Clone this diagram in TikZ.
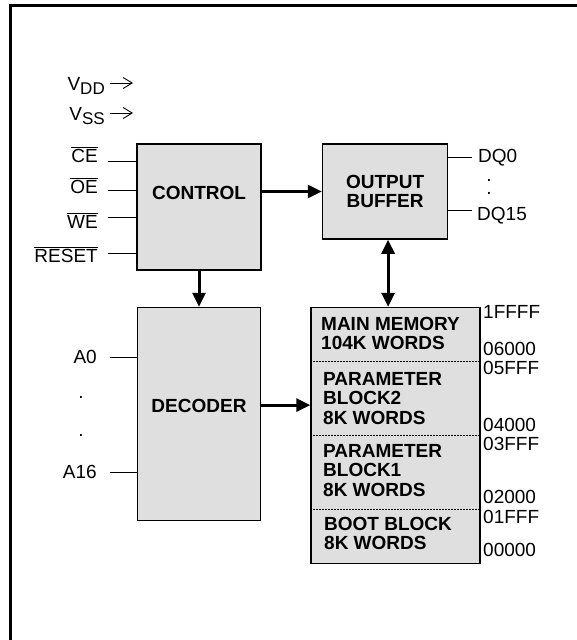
\documentclass[tikz,border=0pt]{standalone}
\usepackage{fontspec}
\setmainfont{Liberation Sans}
\usetikzlibrary{positioning, arrows.meta}

\definecolor{blockgray}{RGB}{223,223,223}
\newcommand{\diagfont}{\fontsize{19}{19.5}\selectfont}
\newcommand{\lowact}[1]{\ensuremath{\overline{\hbox{#1}}}}

\begin{document}
\begin{tikzpicture}[x=1pt, y=-1pt, font=\diagfont]
  \tikzset{>={Triangle[length=14pt,width=13pt]},
    block/.style={draw, line width=1.6pt, fill=blockgray, inner sep=0pt},
    bus/.style={line width=3pt, ->},
    pin/.style={line width=0.9pt},
    supply/.style={line width=0.9pt, -{Straight Barb[length=9pt,width=11pt]}},
    pinlabel/.style={inner sep=0pt},
    memtext/.style={inner sep=0pt, anchor=north west, align=left, font=\diagfont\bfseries},
    divider/.style={line width=0.7pt, dash pattern=on 2pt off 1pt}}

  \useasboundingbox (0,0) rectangle (577,640);
  \draw[line width=3pt] (10,640) |- (577,5);

  \node[block, minimum width=124pt, minimum height=126pt,
        label={[yshift=14pt, font=\diagfont\bfseries]center:CONTROL}] (control) at (199,207) {};
  \node[block, minimum width=123pt, minimum height=213pt,
        label={[yshift=8pt, font=\diagfont\bfseries]center:DECODER}] (decoder) [below=36pt of control] {};
  \node[block, minimum width=125pt, minimum height=95pt, align=center, font=\diagfont\bfseries]
        (buffer) [right=60pt of control.north east, anchor=north west] {OUTPUT\\BUFFER};
  \node[block, minimum width=169pt, minimum height=256pt]
        (memory) [right=49pt of decoder.north east, anchor=north west] {};

  % memory map
  \foreach \dy in {55,129,203}
    \draw[divider] ([yshift=-\dy*1pt]memory.north west) -- ([yshift=-\dy*1pt]memory.north east);
  \node[memtext] (mainblk) at (321,317) {MAIN MEMORY\\104K WORDS};
  \node[memtext] (parblk2) at (323,372) {PARAMETER\\BLOCK2\\8K WORDS};
  \node[memtext] (parblk1) at (323,444) {PARAMETER\\BLOCK1\\8K WORDS};
  \node[memtext] (bootblk) at (324,517) {BOOT BLOCK\\8K WORDS};
  \foreach \addr/\ytop in {1FFFF/305, 06000/342, 05FFF/361, 04000/418,
                           03FFF/437, 02000/490, 01FFF/510, 00000/543}
    \node[pinlabel, anchor=north west] (m\addr) at (483,\ytop) {\addr};

  % supplies
  \node[pinlabel, anchor=base east] (VDD) at (105,90) {V\raisebox{-4pt}{\fontsize{17}{17}\selectfont DD}};
  \node[pinlabel, anchor=base east] (VSS) at (105,120) {V\raisebox{-4pt}{\fontsize{17}{17}\selectfont SS}};
  \coordinate (VDD tip) at (133,83);
  \coordinate (VSS tip) at (133,113);
  \draw[supply] ([shift={(5,-7)}]VDD.base east) -- (VDD tip);
  \draw[supply] ([shift={(5,-7)}]VSS.base east) -- (VSS tip);

  % control inputs
  \foreach \sig/\ybase/\ypin in {CE/162/161, OE/193/190, WE/228/217, RESET/262/253} {
    \node[pinlabel, anchor=base east] (\sig) at (98,\ybase) {\lowact{\sig}};
    \coordinate (\sig pin) at (108,\ypin);
    \draw[pin] (\sig pin) -- (\sig pin -| control.west);
  }

  % address inputs
  \node[pinlabel, anchor=east] (A0)  at (97,357) {A0};
  \node[pinlabel, anchor=east] (A16) at (97,472) {A16};
  \node[pinlabel] (adot1) at (81,397) {.};
  \node[pinlabel] (adot2) at (81,435) {.};
  \draw[pin] ([xshift=13pt]A0.east) -- (A0 -| decoder.west);
  \draw[pin] ([xshift=13pt]A16.east) -- (A16 -| decoder.west);

  % data outputs
  \node[pinlabel, anchor=base west] (DQ0)  at (478,162) {DQ0};
  \node[pinlabel, anchor=base west] (DQ15) at (477,220) {DQ15};
  \node[pinlabel, align=center, font=\fontsize{19}{13}\selectfont] (dqdots) at (489,187) {.\\.};
  \coordinate (DQ0 pin)  at (472,157);
  \coordinate (DQ15 pin) at (472,210);
  \draw[pin] (DQ0 pin) -- (DQ0 pin -| buffer.east);
  \draw[pin] (DQ15 pin) -- (DQ15 pin -| buffer.east);

  % buses
  \draw[bus] (control.east |- buffer.west) -- (buffer.west);
  \draw[bus] (control.south) -- (control.south |- decoder.north);
  \draw[bus, <->] ([xshift=3pt]buffer.south) -- ([xshift=3pt]buffer.south |- memory.north);
  \draw[bus] ([yshift=9pt]decoder.east) -- ([yshift=9pt]decoder.east -| memory.west);
\end{tikzpicture}
\end{document}
